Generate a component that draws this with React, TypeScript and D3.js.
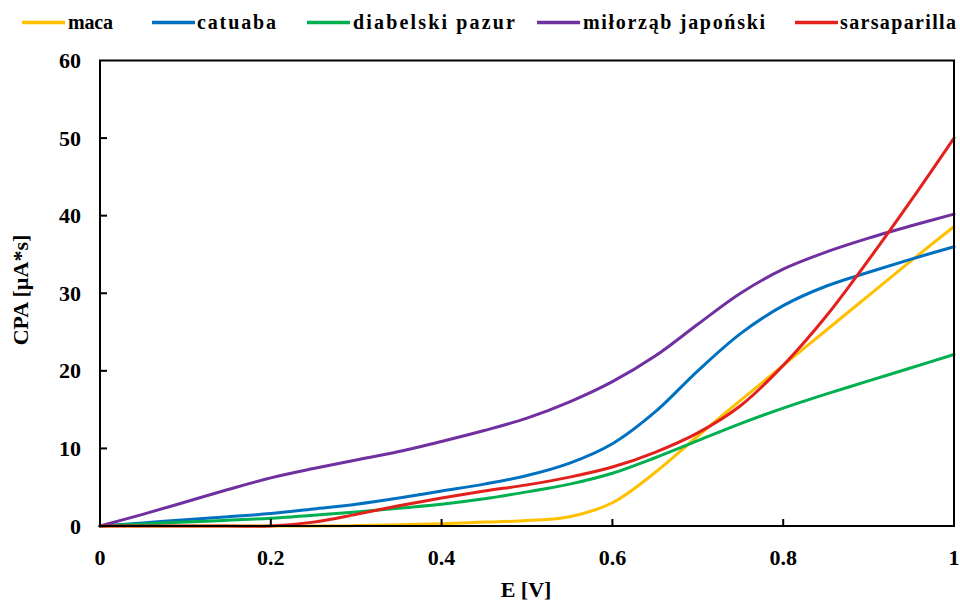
import React from "react";
import * as d3 from "d3";

// Potential E [V]
const potentials = [0, 0.05, 0.1, 0.15, 0.2, 0.25, 0.3, 0.35, 0.4, 0.45, 0.5, 0.55, 0.6, 0.65, 0.7, 0.75, 0.8, 0.85, 0.9, 0.95, 1];

// CPA [µA*s] for each extract
const maca = [0, 0, 0, 0, 0, 0, 0.05, 0.15, 0.3, 0.5, 0.7, 1.2, 3.0, 6.9, 11.6, 16.2, 20.7, 25.2, 29.7, 34.2, 38.6];
const catuaba = [0, 0.4, 0.8, 1.2, 1.6, 2.2, 2.8, 3.6, 4.5, 5.4, 6.5, 8.1, 10.6, 14.7, 20.0, 24.8, 28.4, 30.9, 32.7, 34.4, 36.0];
const diabelskiPazur = [0, 0.25, 0.5, 0.75, 1.0, 1.4, 1.8, 2.3, 2.8, 3.5, 4.4, 5.4, 6.8, 8.8, 11.0, 13.2, 15.2, 17.0, 18.7, 20.4, 22.1];
const milorzab = [0, 1.5, 3.1, 4.7, 6.2, 7.4, 8.5, 9.6, 10.9, 12.3, 13.9, 16.0, 18.6, 21.9, 26.0, 30.0, 33.1, 35.3, 37.1, 38.7, 40.2];
const sarsaparilla = [0, 0, 0, 0, 0, 0.5, 1.5, 2.6, 3.6, 4.5, 5.3, 6.3, 7.6, 9.5, 12.0, 15.5, 20.7, 27.0, 34.3, 42.0, 50.0];

const seriesNames = ["maca", "catuaba", "diabelski pazur", "miłorząb japoński", "sarsaparilla"];
const seriesValues = [maca, catuaba, diabelskiPazur, milorzab, sarsaparilla];
const seriesColors = ["#FFC000", "#0070C0", "#00B050", "#7030A0", "#E3211C"];

const xTicks = [0, 0.2, 0.4, 0.6, 0.8, 1];
const yTicks = [0, 10, 20, 30, 40, 50, 60];

// Legend layout: line start, label start, label width
const legendLayout = [
  { x: 22, tx: 68, w: 45 },
  { x: 152, tx: 197, w: 79 },
  { x: 307, tx: 353, w: 162 },
  { x: 537, tx: 583, w: 182 },
  { x: 795, tx: 840, w: 116 },
];

const W = 960;
const H = 603;
const left = 100;
const right = 954;
const top = 60.5;
const bottom = 526;

const font = "'Liberation Serif', 'Times New Roman', serif";

export default function App() {
  const x = d3.scaleLinear().domain([0, 1]).range([left, right]);
  const y = d3.scaleLinear().domain([0, 60]).range([bottom, top]);

  const line = d3
    .line<[number, number]>()
    .x((d) => x(d[0]))
    .y((d) => y(d[1]))
    .curve(d3.curveCatmullRom.alpha(0.5));

  return (
    <svg
      width={W}
      height={H}
      viewBox={`0 0 ${W} ${H}`}
      style={{ position: "absolute", left: 0, top: 0, background: "#fff" }}
    >
      <rect width={W} height={H} fill="#fff" />

      {/* Legend */}
      {seriesNames.map((name, i) => {
        const L = legendLayout[i];
        return (
          <g key={name}>
            <line x1={L.x} x2={L.x + 43} y1={22.5} y2={22.5} stroke={seriesColors[i]} strokeWidth={3.5} />
            <text
              x={L.tx}
              y={29}
              fontFamily={font}
              fontWeight="bold"
              fontSize={20}
              textLength={L.w}
              lengthAdjust="spacing"
              fill="#000"
            >
              {name}
            </text>
          </g>
        );
      })}

      {/* Series */}
      <g fill="none" strokeLinejoin="round" strokeLinecap="round">
        {seriesValues.map((vals, i) => (
          <path
            key={seriesNames[i]}
            d={line(potentials.map((p, k) => [p, vals[k]] as [number, number])) || ""}
            stroke={seriesColors[i]}
            strokeWidth={3}
          />
        ))}
      </g>

      {/* Plot frame */}
      <rect x={left} y={top} width={right - left} height={bottom - top} fill="none" stroke="#000" strokeWidth={2} />

      {/* Inward ticks */}
      {yTicks.slice(1, -1).map((t) => (
        <line key={"yt" + t} x1={left} x2={left + 7} y1={y(t)} y2={y(t)} stroke="#000" strokeWidth={2} />
      ))}
      {xTicks.slice(1, -1).map((t) => (
        <line key={"xt" + t} x1={x(t)} x2={x(t)} y1={bottom} y2={bottom - 7} stroke="#000" strokeWidth={2} />
      ))}

      {/* Tick labels */}
      {yTicks.map((t) => (
        <text
          key={"yl" + t}
          x={81}
          y={y(t) + 7.5}
          textAnchor="end"
          fontFamily={font}
          fontWeight="bold"
          fontSize={22}
        >
          {t}
        </text>
      ))}
      {xTicks.map((t) => (
        <text
          key={"xl" + t}
          x={x(t)}
          y={565}
          textAnchor="middle"
          fontFamily={font}
          fontWeight="bold"
          fontSize={22}
        >
          {t}
        </text>
      ))}

      {/* Axis titles */}
      <text x={526} y={597} textAnchor="middle" fontFamily={font} fontWeight="bold" fontSize={22}>
        E [V]
      </text>
      <text
        transform="translate(28,290) rotate(-90)"
        textAnchor="middle"
        fontFamily={font}
        fontWeight="bold"
        fontSize={22}
      >
        CPA [µA*s]
      </text>
    </svg>
  );
}
